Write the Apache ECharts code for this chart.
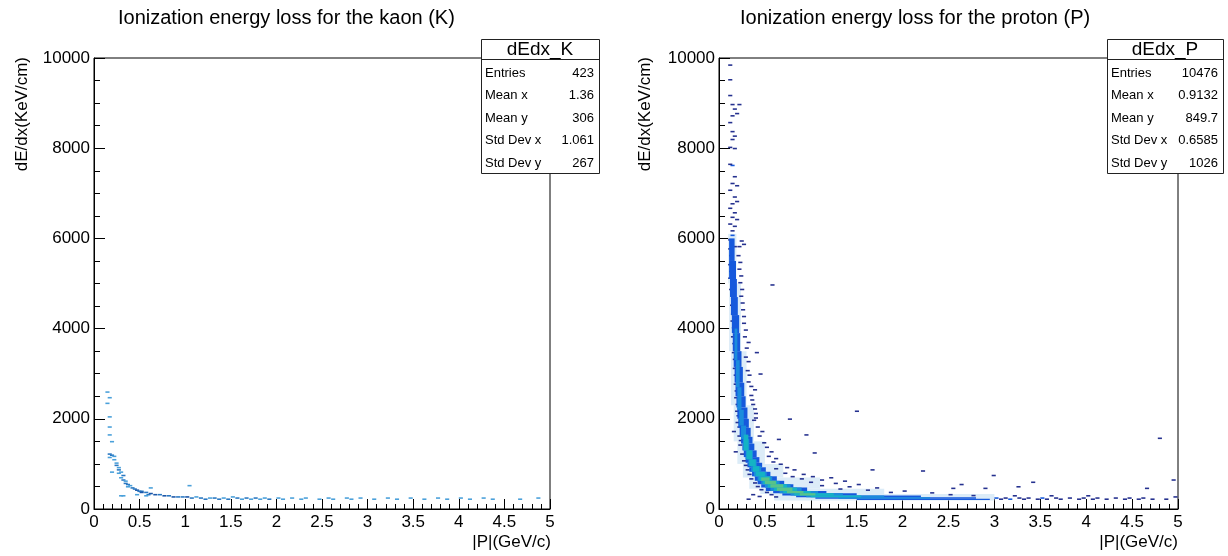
<!DOCTYPE html>
<html><head><meta charset="utf-8">
<script src="https://cdn.jsdelivr.net/npm/echarts@6/dist/echarts.min.js"></script>
<style>html,body{margin:0;padding:0;background:#fff}#c{width:1228px;height:556px}</style>
</head><body><div id="c"></div><script>
// ---------- data ----------
const titles = ['Ionization energy loss for the kaon (K)', 'Ionization energy loss for the proton (P)'];
const xTitle = '|P|(GeV/c)';
const yTitle = 'dE/dx(KeV/cm)';
const histNames = ['dEdx_K', 'dEdx_P'];
const statLabels = ['Entries', 'Mean x', 'Mean y', 'Std Dev x', 'Std Dev y'];
const kaonStats = ['423', '1.36', '306', '1.061', '267'];
const protonStats = ['10476', '0.9132', '849.7', '0.6585', '1026'];

// cells: [x, y, level]
const kaonCells = [
 [0.125,2575,1],[0.15,2450,1],[0.125,2325,1],[0.15,2025,1],[0.15,1800,1],[0.15,1625,1],[0.175,1475,1],
 [0.15,1200,2],[0.175,1175,2],[0.2,1150,1],[0.15,1125,1],[0.2,1075,1],[0.175,800,1],
 [0.225,1000,1],[0.225,950,2],[0.25,900,1],[0.25,850,2],[0.275,800,1],[0.25,775,1],[0.3,725,2],[0.275,675,1],
 [0.3,625,2],[0.325,600,1],[0.325,550,2],[0.35,525,2],[0.375,500,1],[0.35,475,1],[0.4,450,2],[0.425,425,2],
 [0.45,400,3],[0.475,375,2],[0.5,375,2],[0.5,350,3],[0.55,350,2],[0.6,325,3],[0.575,300,2],[0.65,300,3],
 [0.7,300,2],[0.75,275,3],[0.8,275,2],[0.85,250,3],[0.9,250,2],[0.95,250,2],[1.0,250,3],[1.05,225,2],[1.1,250,1],
 [0.275,275,1],[0.3,275,1],[0.45,300,1],[0.55,275,1],[1.025,500,1],[0.6,450,1],
 [1.15,225,2],[1.2,200,2],[1.25,225,1],[1.3,225,2],[1.35,200,2],[1.4,225,1],[1.45,200,2],[1.5,250,1],[1.55,225,2],
 [1.6,200,1],[1.65,225,2],[1.7,200,1],[1.75,225,2],[1.8,200,1],[1.85,225,1],[1.9,200,2],[2.0,225,1],[2.05,200,1],
 [2.15,225,1],[2.25,200,1],[2.3,225,1],[2.45,200,1],[2.55,225,1],[2.6,200,1],[2.75,225,1],[2.8,200,1],[2.9,225,1],
 [3.05,200,1],[3.2,225,1],[3.3,200,1],[3.45,225,1],[3.6,200,1],[3.75,225,1],[3.85,200,1],[4.0,225,1],[4.1,200,1],
 [4.25,225,1],[4.35,200,1],[4.65,200,1],[4.85,225,1]
];

const protonCells = [
 // sparse top of the curve
 [0.1,9825,1],[0.1,9500,1],[0.1,9150,1],[0.125,8950,1],[0.15,8850,1],[0.2,8950,1],[0.175,8750,1],[0.125,8700,1],
 [0.1,8550,1],[0.125,8350,1],[0.15,8250,1],[0.125,8175,1],[0.1,8000,1],[0.15,7975,1],[0.125,7600,2],[0.1,7625,1],
 [0.15,7350,1],[0.125,7200,1],[0.175,7150,1],[0.1,7050,1],[0.15,6900,1],[0.125,6750,1],[0.175,6800,1],[0.1,6650,1],
 [0.15,6550,1],[0.125,6450,1],[0.175,6400,1],[0.1,6300,1],[0.15,6250,1],[0.125,6150,1],[0.125,6050,2],[0.225,5925,1],
 [0.25,5850,1],[0.1,5950,1],[0.15,5800,1],
 // left edge
 [0.1,5750,1],[0.1,5400,1],[0.1,5100,1],[0.11,4850,1],[0.12,4500,1],[0.125,4150,1],[0.13,3800,1],[0.14,3450,1],
 [0.15,3100,1],[0.16,2750,1],[0.165,2450,1],[0.175,2150,1],[0.18,1900,1],[0.14,1700,1],[0.2,1600,1],[0.21,1400,1],
 [0.16,1250,1],[0.23,1200,1],[0.25,1050,1],[0.27,950,1],[0.29,850,1],[0.31,750,1],[0.33,650,1],[0.37,560,1],
 [0.4,480,1],[0.44,410,1],[0.35,300,1],[0.5,350,1],[0.42,260,1],[0.55,300,1],[0.3,200,1],[0.6,250,1],
 [0.11,5600,1],[0.11,5250,1],[0.12,4950,1],[0.13,4650,1],[0.13,4300,1],[0.14,4000,1],[0.145,3650,1],
 [0.15,3300,1],[0.16,2950,1],[0.17,2600,1],[0.18,2300,1],[0.19,2050,1],[0.2,1800,1],[0.215,1500,1],
 // right edge and scatter
 [0.19,5600,1],[0.2,5300,1],[0.21,5000,1],[0.22,4700,1],[0.24,4400,1],[0.25,4100,1],[0.26,3800,1],[0.3,3675,1],
 [0.27,3350,1],[0.39,3450,1],[0.29,3050,1],[0.43,2975,1],[0.3,2800,1],[0.37,2625,1],[0.33,2500,1],[0.35,2300,1],
 [0.38,2100,1],[0.75,1975,1],[0.36,1950,1],[0.4,1800,1],[0.45,1700,1],[0.42,1600,1],[0.63,1525,1],[0.47,1450,1],
 [0.5,1350,1],[0.93,1625,1],[1.48,2150,1],[0.55,1250,1],[1.02,1225,1],[0.52,1150,1],[0.6,1100,1],[0.57,1025,1],
 [0.65,975,1],[0.72,900,1],[0.6,875,1],[0.8,850,1],[1.65,850,1],[0.7,775,1],[0.9,750,1],[0.78,700,1],
 [1.0,700,1],[1.2,675,1],[0.88,650,1],[1.1,625,1],[1.35,600,1],[0.98,575,1],[1.25,550,1],[1.5,525,1],[1.1,500,1],
 [1.4,475,1],[1.7,450,1],[1.3,425,1],[1.6,400,1],[2.0,380,1],[1.85,350,1],[2.3,340,1],
 [0.2,5800,1],[0.21,5450,1],[0.22,5150,1],[0.23,4850,1],[0.235,4550,1],[0.25,4250,1],[0.27,3950,1],
 [0.28,3550,1],[0.3,3250,1],[0.31,2950,1],[0.33,2700,1],[0.34,2400,1],[0.37,2200,1],[0.38,2000,1],
 [2.2,825,1],[2.97,725,1],[2.62,525,1],[3.4,575,1],[3.24,475,1],[2.53,440,1],[2.88,440,1],[4.64,440,1],
 [4.93,625,1],[4.95,250,1],[4.78,1550,1],[0.56,4950,1],
 // flat tail
 [3.0,225,2],[3.05,200,1],[3.1,225,1],[3.15,200,2],[3.25,225,1],[3.3,200,1],[3.35,225,1],[3.45,200,1],[3.5,225,2],
 [3.55,200,1],[3.65,225,1],[3.7,200,1],[3.8,225,1],[3.9,200,1],[3.95,225,1],[4.05,200,1],[4.1,225,1],[4.2,200,1],
 [4.3,225,1],[4.4,200,1],[4.45,225,1],[4.55,200,1],[4.6,225,1],[4.7,200,1],[4.85,200,1],[3.6,275,1],[4.0,275,1],
 [3.2,275,1],[2.75,280,1],[2.5,300,1]
];

// dense band runs: [x0, x1, y0, y1, level]  (level 0 = faint halo around the band)
const protonBands = [
 [0.1,0.19,5000,6100,0],[0.11,0.24,3500,5000,0],[0.13,0.3,2300,3500,0],[0.16,0.38,1500,2300,0],
 [0.2,0.5,1000,1500,0],[0.26,0.7,700,1000,0],[0.33,1.1,450,700,0],[0.45,1.8,330,450,0],[0.6,3.0,190,330,0],
 [0.11,0.17,5500,6000,2],[0.11,0.185,5100,5500,2],[0.12,0.195,4700,5100,2],[0.13,0.205,4300,4700,2],
 [0.14,0.22,3900,4300,2],[0.15,0.23,3500,3900,2],[0.16,0.245,3150,3500,2],[0.17,0.26,2800,3150,2],
 [0.18,0.275,2500,2800,2],[0.19,0.29,2250,2500,2],[0.2,0.31,2000,2250,2],[0.21,0.325,1800,2000,2],
 [0.225,0.345,1600,1800,2],[0.24,0.365,1450,1600,2],[0.255,0.385,1300,1450,2],[0.27,0.41,1150,1300,2],
 [0.29,0.44,1025,1150,2],[0.31,0.47,925,1025,2],[0.33,0.51,825,925,2],[0.36,0.56,725,825,2],
 [0.39,0.63,625,725,2],[0.42,0.71,550,625,2],[0.46,0.81,475,550,2],[0.51,0.96,400,475,2],
 [0.59,1.17,350,400,2],[0.69,1.5,300,350,2],[0.84,2.2,260,300,2],[1.05,2.8,225,260,2],[1.5,2.95,200,225,2],
 [0.17,0.2,3300,4000,3],[0.185,0.225,2700,3300,3],[0.2,0.245,2200,2700,3],[0.22,0.27,1850,2200,3],
 [0.24,0.295,1550,1850,3],[0.26,0.33,1300,1550,3],[0.29,0.37,1100,1300,3],[0.32,0.41,950,1100,3],
 [0.35,0.46,825,950,3],[0.38,0.52,725,825,3],[0.42,0.58,625,725,3],[0.46,0.66,550,625,3],
 [0.5,0.78,475,550,3],[0.56,0.9,400,475,3],[0.66,1.08,350,400,3],[0.78,1.35,300,350,3],
 [0.95,1.8,260,300,3],[1.3,2.3,225,260,3],
 [0.27,0.32,1300,1650,4],[0.3,0.36,1100,1300,4],[0.33,0.4,950,1100,4],[0.37,0.44,825,950,4],
 [0.4,0.5,725,825,4],[0.44,0.56,625,725,4],[0.48,0.63,550,625,4],[0.53,0.74,475,550,4],
 [0.6,0.85,400,475,4],[0.7,1.0,350,400,4],[0.82,1.25,300,350,4],[1.0,1.55,260,300,4],
 [0.46,0.55,625,700,5],[0.5,0.62,550,625,5],[0.56,0.7,475,550,5],[0.63,0.8,400,475,5],
 [0.74,0.92,350,400,5],[0.88,1.05,300,350,5]
];

// ---------- styles ----------
const FONT = '"Liberation Sans", Arial, Helvetica, sans-serif';
const CELL_W = 0.045, CELL_H = 35;
const kaonPalette = [null, '#4aa0da', '#2a78c2', '#1b56a8'];
const protonPalette = ['#dcecf8', '#25318f', '#1659dc', '#1a8cdc', '#14b3c4', '#58c38a'];

function cellRenderer(pal) {
  return function (params, api) {
    const x = api.value(0), y = api.value(1), l = api.value(2);
    const a = api.coord([x, y + CELL_H]);
    const b = api.coord([x + CELL_W, y]);
    return {type: 'rect', shape: {x: a[0], y: a[1], width: b[0] - a[0], height: b[1] - a[1]},
            style: {fill: pal[l]}};
  };
}
function bandRenderer(pal) {
  return function (params, api) {
    const a = api.coord([api.value(0), api.value(3)]);
    const b = api.coord([api.value(1), api.value(2)]);
    return {type: 'rect', shape: {x: a[0], y: a[1], width: b[0] - a[0], height: b[1] - a[1]},
            style: {fill: pal[api.value(4)]}};
  };
}

const grids = [
  {left: 94, top: 58, width: 456, height: 451},
  {left: 719, top: 58, width: 459, height: 451}
];
const gridStyle = {show: true, borderColor: '#000', borderWidth: 1, backgroundColor: 'transparent'};

function xAxis(i) {
  return {type: 'value', gridIndex: i, min: 0, max: 5, interval: 0.5,
    axisLine: {show: true, onZero: false, lineStyle: {color: '#000', width: 1}},
    axisTick: {show: true, inside: true, length: 10, lineStyle: {color: '#000'}},
    minorTick: {show: true, splitNumber: 5, length: 5, lineStyle: {color: '#000'}},
    splitLine: {show: false},
    axisLabel: {color: '#000', fontSize: 17, fontFamily: FONT, margin: 5, formatter: v => String(v)}};
}
function yAxis(i) {
  return {type: 'value', gridIndex: i, min: 0, max: 10000, interval: 2000,
    axisLine: {show: true, onZero: false, lineStyle: {color: '#000', width: 1}},
    axisTick: {show: true, inside: true, length: 11, lineStyle: {color: '#000'}},
    minorTick: {show: true, splitNumber: 4, length: 6, lineStyle: {color: '#000'}},
    splitLine: {show: false},
    axisLabel: {color: '#000', fontSize: 17, fontFamily: FONT, margin: 4, formatter: v => String(v)}};
}

function statsBox(left, top, w, name, values) {
  const els = [];
  els.push({type: 'rect', shape: {x: left + 0.5, y: top + 0.5, width: w, height: 134},
            style: {fill: '#fff', stroke: '#222', lineWidth: 1}});
  els.push({type: 'line', shape: {x1: left + 0.5, y1: top + 20.5, x2: left + w + 0.5, y2: top + 20.5},
            style: {stroke: '#222', lineWidth: 1}});
  els.push({type: 'text', x: left + w / 2, y: top + 11,
            style: {text: name, font: '19px ' + FONT, fill: '#000', align: 'center', verticalAlign: 'middle'}});
  const rowY = [34, 56.5, 79, 101.5, 124];
  statLabels.forEach((lab, k) => {
    els.push({type: 'text', x: left + 4, y: top + rowY[k],
              style: {text: lab, font: '13px ' + FONT, fill: '#000', align: 'left', verticalAlign: 'middle'}});
    els.push({type: 'text', x: left + w - 5, y: top + rowY[k],
              style: {text: values[k], font: '13px ' + FONT, fill: '#000', align: 'right', verticalAlign: 'middle'}});
  });
  return {type: 'group', z: 100, children: els};
}

const option = {
  animation: false,
  backgroundColor: '#fff',
  title: [
    {text: titles[0], left: 113, top: 3, padding: 5, textStyle: {fontSize: 20, fontWeight: 'normal', fontFamily: FONT, color: '#000'}},
    {text: titles[1], left: 735, top: 3, padding: 5, textStyle: {fontSize: 20, fontWeight: 'normal', fontFamily: FONT, color: '#000'}}
  ],
  grid: grids.map(g => Object.assign({}, g, gridStyle)),
  xAxis: [xAxis(0), xAxis(1)],
  yAxis: [yAxis(0), yAxis(1)],
  series: [
    {type: 'custom', xAxisIndex: 0, yAxisIndex: 0, data: kaonCells, encode: {x: 0, y: 1},
     renderItem: cellRenderer(kaonPalette)},
    {type: 'custom', xAxisIndex: 1, yAxisIndex: 1, data: protonBands.filter(b => b[4] === 0), encode: {x: [0, 1], y: [2, 3]},
     renderItem: bandRenderer(protonPalette)},
    {type: 'custom', xAxisIndex: 1, yAxisIndex: 1, data: protonCells, encode: {x: 0, y: 1},
     renderItem: cellRenderer(protonPalette)},
    {type: 'custom', xAxisIndex: 1, yAxisIndex: 1, data: protonBands.filter(b => b[4] > 0), encode: {x: [0, 1], y: [2, 3]},
     renderItem: bandRenderer(protonPalette)}
  ],
  graphic: [
    {type: 'text', x: 22, y: 57, rotation: Math.PI / 2,
     style: {text: yTitle, font: '17px ' + FONT, fill: '#000', align: 'right', verticalAlign: 'middle'}},
    {type: 'text', x: 645, y: 57, rotation: Math.PI / 2,
     style: {text: yTitle, font: '17px ' + FONT, fill: '#000', align: 'right', verticalAlign: 'middle'}},
    {type: 'text', x: 551, y: 542,
     style: {text: xTitle, font: '17px ' + FONT, fill: '#000', align: 'right', verticalAlign: 'middle'}},
    {type: 'text', x: 1178, y: 542,
     style: {text: xTitle, font: '17px ' + FONT, fill: '#000', align: 'right', verticalAlign: 'middle'}},
    statsBox(481, 39, 118, histNames[0], kaonStats),
    statsBox(1107, 39, 116, histNames[1], protonStats)
  ]
};
const chart = echarts.init(document.getElementById('c'), null, {renderer: 'canvas'});
chart.setOption(option);
</script></body></html>
